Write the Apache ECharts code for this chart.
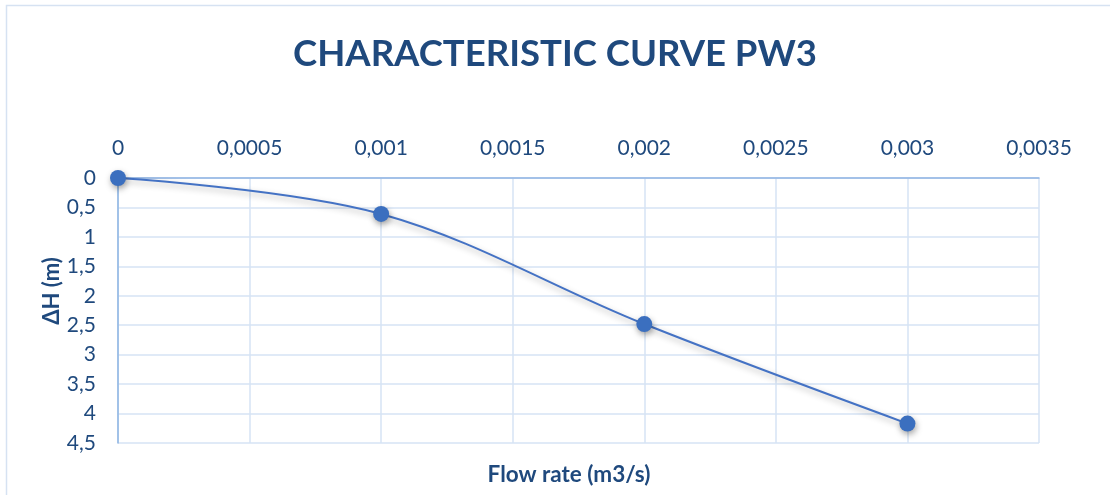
<!DOCTYPE html>
<html>
<head>
<meta charset="utf-8">
<script src="https://cdn.jsdelivr.net/npm/echarts@6/dist/echarts.min.js"></script>
<style>
  html, body { margin: 0; padding: 0; background: #fff; }
  #chart { width: 1110px; height: 495px; }
</style>
</head>
<body>
<div id="chart"></div>
<script>
// Pump PW3 characteristic: head loss against flow rate
const flowRate = [0, 0.001, 0.002, 0.003];       // m3/s
const headLoss = [0, 0.61, 2.48, 4.17];          // m

const titleText = 'CHARACTERISTIC CURVE PW3';
const xName = 'Flow rate (m3/s)';
const yName = 'ΔH (m)';

const textColor = '#1f497d';
const fontFamily = 'Lato, "Open Sans", sans-serif';

// decimal comma, as in the source locale
function commaFmt(v) {
  return String(Number(v.toPrecision(6))).replace('.', ',');
}

const chart = echarts.init(document.getElementById('chart'), null, { renderer: 'canvas' });

chart.setOption({
  animation: false,
  backgroundColor: '#ffffff',
  title: [{
    text: titleText,
    left: 'center',
    top: 31,
    textStyle: { color: textColor, fontSize: 36.5, fontWeight: 'bold', fontFamily: fontFamily }
  }, {
    // bottom axis caption (x axis itself sits on top)
    text: xName,
    left: 564,
    textAlign: 'center',
    top: 458,
    textStyle: { color: textColor, fontSize: 22.5, fontWeight: 'bold', fontFamily: fontFamily }
  }],
  graphic: [{
    type: 'rect',
    shape: { x: 6.5, y: 5.5, width: 1120, height: 500 },
    style: { fill: 'none', stroke: '#d6e2f2', lineWidth: 1.5 },
    silent: true
  }, {
    // vertical axis caption
    type: 'text',
    x: 52,
    y: 291,
    rotation: Math.PI / 2,
    style: {
      text: yName,
      fill: textColor,
      font: 'bold 22px ' + fontFamily,
      align: 'center',
      verticalAlign: 'middle'
    },
    silent: true
  }],
  grid: { left: 118, right: 71, top: 178, bottom: 52, containLabel: false, outerBoundsMode: 'none' },
  xAxis: {
    type: 'value',
    position: 'top',
    min: 0,
    max: 0.0035,
    interval: 0.0005,
    axisLine: { show: true, lineStyle: { color: '#8eb4e3', width: 1.5 } },
    axisTick: { show: false },
    axisLabel: {
      color: textColor, fontSize: 21, fontFamily: fontFamily, margin: 19,
      formatter: commaFmt
    },
    splitLine: { show: true, lineStyle: { color: '#d6e3f5', width: 1.5 } }
  },
  yAxis: {
    type: 'value',
    inverse: true,
    min: 0,
    max: 4.5,
    interval: 0.5,
    axisLine: { show: true, lineStyle: { color: '#8eb4e3', width: 1.5 } },
    axisTick: { show: false },
    axisLabel: {
      color: textColor, fontSize: 21, fontFamily: fontFamily, margin: 22,
      formatter: commaFmt
    },
    splitLine: { show: true, lineStyle: { color: '#d6e3f5', width: 1.5 } }
  },
  series: [{
    type: 'line',
    data: flowRate.map((x, i) => [x, headLoss[i]]),
    smooth: 0.35,
    symbol: 'circle',
    symbolSize: 16,
    lineStyle: {
      color: '#4472c4', width: 2,
      shadowColor: 'rgba(0,0,0,0.3)', shadowBlur: 6, shadowOffsetX: 1, shadowOffsetY: 3
    },
    itemStyle: {
      color: '#3b6fbf',
      shadowColor: 'rgba(0,0,0,0.35)', shadowBlur: 6, shadowOffsetX: 1, shadowOffsetY: 3
    }
  }]
});
</script>
</body>
</html>
